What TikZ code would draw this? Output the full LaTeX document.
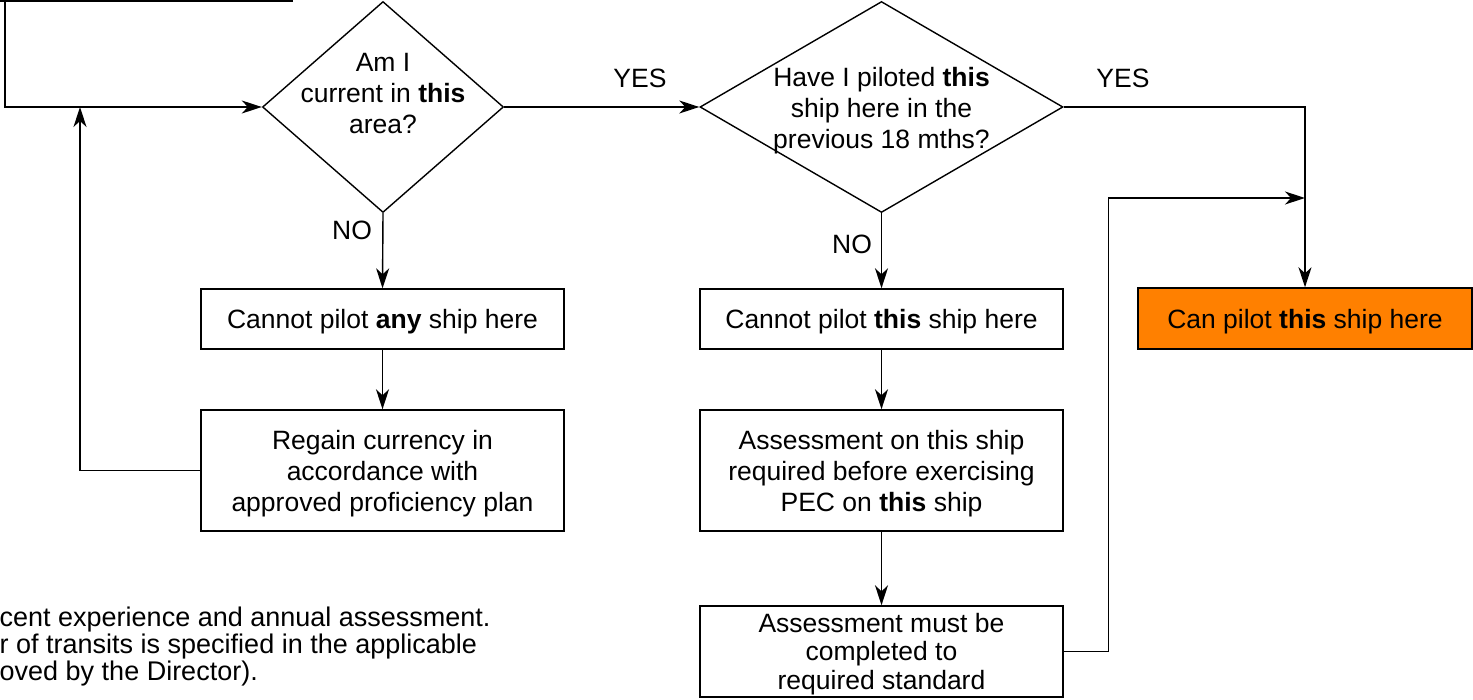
\documentclass[tikz,border=0pt]{standalone}
\usepackage{fontspec}
\setmainfont{Liberation Sans}
\usetikzlibrary{shapes.geometric,arrows.meta}
\definecolor{orng}{RGB}{255,128,0}
\begin{document}
\begin{tikzpicture}[x=1pt,y=-1pt,
  font=\fontsize{26.5}{31}\selectfont,
  line width=1.4pt,
  arr/.style={-{Stealth[length=20pt,width=13pt,inset=6pt]}},
  box/.style={draw,rectangle,inner sep=0pt,minimum width=363pt},
  dia/.style={draw,diamond,inner sep=0pt},
  lbl/.style={inner sep=0pt,align=center}]
\useasboundingbox (0,0) rectangle (1473,700);
\clip (0,0) rectangle (1473,700);
% top partial box
\node[draw,rectangle,inner sep=0pt,minimum width=352pt,minimum height=61pt] (top) at (116,-29.5) {};
% diamonds
\node[dia,minimum width=241pt,minimum height=211pt] (d1) at (383,107) {};
\node[lbl] (d1t) at (383,94) {Am I\\current in \textbf{this}\\area?};
\node[dia,minimum width=363pt,minimum height=211pt] (d2) at (881.5,107) {};
\node[lbl] (d2t) at (881.5,111) {Have I piloted \textbf{this}\\ship here in the\\previous 18 mths?};
% boxes
\node[box,minimum height=60pt] (b1) at (382.5,319) {};
\node[lbl] (b1t) at (382.5,322) {Cannot pilot \textbf{any} ship here};
\node[box,minimum height=121pt] (b2) at (382.5,470.5) {};
\node[lbl] (b2t) at (382.5,474) {Regain currency in\\accordance with\\approved proficiency plan};
\node[box,minimum height=60pt] (b3) at (881.5,319) {};
\node[lbl] (b3t) at (881.5,322) {Cannot pilot \textbf{this} ship here};
\node[box,minimum height=121pt] (b4) at (881.5,470.5) {};
\node[lbl] (b4t) at (881.5,474) {Assessment on this ship\\required before exercising\\PEC on \textbf{this} ship};
\node[box,minimum height=91pt] (b5) at (881.5,651.5) {};
\node[lbl,font=\fontsize{26.5}{28.5}\selectfont] (b5t) at (881.5,654) {Assessment must be\\completed to\\required standard};
\node[box,fill=orng,minimum width=334pt,minimum height=61pt] (ok) at (1305,318.5) {};
\node[lbl] (okt) at (1305,322) {Can pilot \textbf{this} ship here};
% labels
\node[lbl] (yes1) at (640,78) {YES};
\node[lbl] (yes2) at (1123,78) {YES};
\node[lbl] (no1) at (352,230) {NO};
\node[lbl] (no2) at (852,244) {NO};
% note text
\node[lbl,anchor=north west,align=left,font=\fontsize{27}{27}\selectfont] (note) at (-1,606)
  {cent experience and annual assessment.\\r of transits is specified in the applicable\\ oved by the Director).};
% connectors
\coordinate (tl) at (5,1);
\coordinate (join) at (1305,198);
\coordinate (loopin) at (80,107);
\draw[arr] (tl) |- (d1.west);
\draw[arr] (d1.east) -- (d2.west);
\draw[arr] (d1.south) -- (b1.north);
\draw[arr] (b1.south) -- (b2.north);
\draw[arr] (b2.west) -| (loopin);
\draw[arr] (d2.south) -- (b3.north);
\draw[arr] (b3.south) -- (b4.north);
\draw[arr] (b4.south) -- (b5.north);
\draw[arr] (d2.east) -| (ok.north);
\draw[arr] (b5.east) -- ++(45,0) |- (join);
\end{tikzpicture}
\end{document}
